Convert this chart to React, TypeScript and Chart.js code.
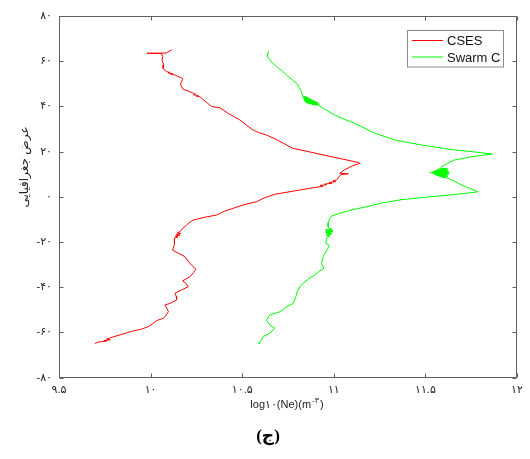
import React, { useEffect, useRef } from 'react';
import { Chart, registerables } from 'chart.js';

Chart.register(...registerables);

// CSES electron density profile (latitude, log10 Ne)
const csesLat = [
  65.0, 63.6, 63.5, 63.4, 62.0, 60.5, 58.3, 56.8, 55.4, 55.0, 54.8, 54.5, 54.2, 53.9, 53.6, 52.6,
  52.0, 51.0, 49.5, 47.6, 46.8, 45.8, 45.4, 45.1, 44.8, 44.5, 44.2, 43.6, 41.8, 39.9, 39.4, 38.2,
  36.9, 35.2, 34.0, 31.6, 29.5, 28.4, 27.3, 25.6, 23.7, 21.4, 20.0, 18.5, 16.8, 15.2, 14.8, 13.6,
  12.0, 10.4, 10.1, 9.9, 9.0, 7.4, 7.0, 6.7, 6.3, 6.0, 5.6, 5.3, 5.0, 4.6, 4.0, 2.5,
  1.1, -0.5, -2.2, -3.5, -5.1, -6.5, -8.1, -9.0, -10.3, -11.5, -12.5, -14.0, -15.5, -16.0, -16.3, -16.7,
  -17.0, -17.4, -17.8, -18.3, -19.1, -21.0, -23.6, -25.0, -26.5, -28.0, -29.5, -32.1, -33.5, -35.4, -37.2, -38.5,
  -39.8, -41.3, -42.7, -44.0, -45.7, -47.2, -47.9, -49.5, -50.9, -53.0, -53.8, -54.8, -56.3, -57.5, -58.6, -59.7,
  -61.0, -61.9, -63.0, -63.3, -63.6, -63.9, -64.2, -64.9,
];
const csesNe = [
  10.115, 10.085, 9.98, 10.06, 10.066, 10.062, 10.072, 10.068, 10.087, 10.105, 10.095, 10.12, 10.11, 10.135, 10.14, 10.17,
  10.175, 10.168, 10.164, 10.178, 10.205, 10.233, 10.245, 10.235, 10.26, 10.25, 10.27, 10.278, 10.305, 10.333, 10.378, 10.4,
  10.424, 10.46, 10.487, 10.525, 10.56, 10.59, 10.633, 10.68, 10.724, 10.778, 10.86, 10.942, 11.04, 11.133, 11.142, 11.1,
  11.06, 11.033, 11.08, 11.04, 11.03, 11.015, 10.995, 11.01, 10.975, 10.99, 10.95, 10.96, 10.925, 10.94, 10.888, 10.78,
  10.678, 10.62, 10.578, 10.51, 10.451, 10.4, 10.36, 10.3, 10.233, 10.21, 10.197, 10.175, 10.16, 10.145, 10.165, 10.14,
  10.16, 10.135, 10.15, 10.13, 10.133, 10.128, 10.12, 10.151, 10.187, 10.2, 10.215, 10.247, 10.235, 10.215, 10.175, 10.195,
  10.205, 10.169, 10.133, 10.14, 10.142, 10.106, 10.078, 10.09, 10.097, 10.08, 10.069, 10.033, 10.01, 9.987, 9.95, 9.89,
  9.84, 9.8, 9.76, 9.78, 9.745, 9.76, 9.72, 9.696,
];

// Swarm C electron density profile (latitude, log10 Ne)
const swarmLat = [
  64.5, 63.5, 62.0, 60.8, 59.8, 57.6, 55.5, 53.9, 52.0, 50.2, 48.5, 46.5,
  44.4, 44.2, 44.0, 43.8, 43.6, 43.4, 43.2, 43.0, 42.8, 42.6, 42.4, 42.2, 42.0, 41.8, 41.6, 41.4, 41.2, 41.0, 40.8, 40.6,
  38.8, 36.9, 34.5, 32.5, 30.3, 28.1, 25.1, 22.9, 20.7, 19.9, 18.9, 17.8, 16.3, 14.8, 13.3,
  12.6, 12.4, 12.2, 12.0, 11.8, 11.6, 11.4, 11.2, 11.0, 10.8, 10.7, 10.5, 10.3, 10.1, 9.9, 9.7, 9.5, 9.3, 9.1, 8.9, 8.6, 8.2,
  6.8, 5.2, 3.8, 2.5, 2.2, 1.5, 0.8, -0.2, -1.4, -2.8, -4.4, -6.0, -7.3, -8.5, -9.5, -11.5, -13.3,
  -14.0, -14.3, -14.6, -14.9, -15.2, -15.5, -15.8, -16.1, -16.4, -16.7, -17.0, -17.4, -17.7,
  -19.0, -20.6, -21.5, -22.8, -24.5, -26.5, -29.5, -31.7, -33.0, -34.6, -36.5, -38.3, -39.8, -42.0, -44.2, -47.2,
  -48.7, -50.9, -52.3, -54.6, -56.8, -58.2, -60.4, -61.9, -64.2, -65.2,
];
const swarmNe = [
  10.646, 10.64, 10.638, 10.65, 10.657, 10.688, 10.72, 10.742, 10.77, 10.797, 10.81, 10.824,
  10.83, 10.85, 10.835, 10.86, 10.835, 10.87, 10.835, 10.88, 10.84, 10.89, 10.84, 10.9, 10.845, 10.91, 10.85, 10.915, 10.86, 10.92, 10.88, 10.915,
  10.95, 10.988, 11.05, 11.115, 11.17, 11.224, 11.333, 11.479, 11.66, 11.76, 11.866, 11.76, 11.66, 11.62, 11.588,
  11.585, 11.62, 11.57, 11.62, 11.56, 11.62, 11.55, 11.625, 11.54, 11.63, 11.524, 11.63, 11.54, 11.625, 11.55, 11.62, 11.56, 11.62, 11.575, 11.62, 11.59, 11.624,
  11.66, 11.697, 11.74, 11.779, 11.788, 11.72, 11.633, 11.5, 11.36, 11.26, 11.178, 11.09, 11.033, 10.99, 10.978, 10.97, 10.969,
  10.975, 10.99, 10.955, 10.995, 10.955, 10.995, 10.955, 10.99, 10.96, 10.985, 10.96, 10.98, 10.965,
  10.96, 10.957, 10.975, 10.969, 10.955, 10.942, 10.933, 10.946, 10.92, 10.897, 10.86, 10.833, 10.815, 10.8, 10.793, 10.778,
  10.742, 10.706, 10.651, 10.633, 10.651, 10.678, 10.651, 10.615, 10.597, 10.593,
];

const seriesNames = ['CSES', 'Swarm C'];
const seriesColors = ['#ff0000', '#00ff00'];

const xTickValues = [9.5, 10, 10.5, 11, 11.5, 12];
const xTickLabels = ['۹.۵', '۱۰', '۱۰.۵', '۱۱', '۱۱.۵', '۱۲'];
const yTickValues = [-80, -60, -40, -20, 0, 20, 40, 60, 80];
const yTickLabels = ['-۸۰', '-۶۰', '-۴۰', '-۲۰', '۰', '۲۰', '۴۰', '۶۰', '۸۰'];

const xTitleMain = 'log۱۰(Ne)(m';
const xTitleSup = '-۳';
const xTitleEnd = ')';
const yTitle = 'عرض جغرافیایی';
const caption = '(ج)';

const FONT = "'Liberation Sans', 'DejaVu Sans', Arial, sans-serif";

const W = 514;
const H = 443;

const decorPlugin = {
  id: 'decor',
  afterDraw(chart: any) {
    const ctx = chart.ctx as CanvasRenderingContext2D;
    const a = chart.chartArea;
    const xs = chart.scales.x;
    const ys = chart.scales.y;
    const L = Math.round(a.left) + 0.5;
    const R = Math.round(a.right) - 0.5;
    const T = Math.round(a.top) + 0.5;
    const B = Math.round(a.bottom) - 0.5;
    ctx.save();
    // box
    ctx.strokeStyle = '#5f5f5f';
    ctx.lineWidth = 1;
    ctx.beginPath();
    ctx.rect(L, T, R - L, B - T);
    ctx.stroke();
    // inward ticks
    const tl = 4;
    ctx.beginPath();
    xTickValues.forEach((v) => {
      const px = Math.round(xs.getPixelForValue(v)) + 0.5;
      ctx.moveTo(px, B);
      ctx.lineTo(px, B - tl);
      ctx.moveTo(px, T);
      ctx.lineTo(px, T + tl);
    });
    yTickValues.forEach((v) => {
      const py = Math.round(ys.getPixelForValue(v)) + 0.5;
      ctx.moveTo(L, py);
      ctx.lineTo(L + tl, py);
      ctx.moveTo(R, py);
      ctx.lineTo(R - tl, py);
    });
    ctx.stroke();

    // legend
    const lx = 399.5, ly = 22.5, lw = 96, lh = 36.5;
    ctx.fillStyle = '#ffffff';
    ctx.fillRect(lx, ly, lw, lh);
    ctx.strokeStyle = '#8a8a8a';
    ctx.strokeRect(lx, ly, lw, lh);
    ctx.font = `13px ${FONT}`;
    ctx.textAlign = 'left';
    ctx.textBaseline = 'middle';
    seriesNames.forEach((name, i) => {
      const yy = 32.5 + i * 16.5;
      ctx.strokeStyle = seriesColors[i];
      ctx.beginPath();
      ctx.moveTo(404, yy);
      ctx.lineTo(435, yy);
      ctx.stroke();
      ctx.fillStyle = '#111';
      ctx.fillText(name, 439, yy + 1);
    });

    // x title with superscript
    ctx.fillStyle = '#222';
    ctx.font = `11px ${FONT}`;
    const w1 = ctx.measureText(xTitleMain).width;
    const w3 = ctx.measureText(xTitleEnd).width;
    ctx.font = `8px ${FONT}`;
    const w2 = ctx.measureText(xTitleSup).width + 2;
    const total = w1 + w2 + w3;
    const cx = (a.left + a.right) / 2 - 1;
    let sx = cx - total / 2;
    const ty = 397;
    ctx.textAlign = 'left';
    ctx.textBaseline = 'middle';
    ctx.font = `11px ${FONT}`;
    ctx.fillText(xTitleMain, sx, ty);
    sx += w1;
    ctx.font = `8px ${FONT}`;
    ctx.fillText(xTitleSup, sx + 1, ty - 4);
    sx += w2;
    ctx.font = `11px ${FONT}`;
    ctx.fillText(xTitleEnd, sx, ty);

    // y title
    ctx.save();
    ctx.translate(17, 159);
    ctx.rotate(-Math.PI / 2);
    ctx.font = `12px ${FONT}`;
    ctx.textAlign = 'center';
    ctx.textBaseline = 'middle';
    ctx.fillText(yTitle, 0, 0);
    ctx.restore();

    // caption
    ctx.font = `bold 17px 'Liberation Serif', 'DejaVu Sans', serif`;
    ctx.textAlign = 'center';
    ctx.textBaseline = 'middle';
    ctx.fillStyle = '#000';
    ctx.fillText(caption, 260, 429);
    ctx.restore();
  },
};

export default function App() {
  const ref = useRef<HTMLCanvasElement | null>(null);
  useEffect(() => {
    if (!ref.current) return;
    const chart = new Chart(ref.current, {
      type: 'scatter',
      data: {
        datasets: [
          {
            label: seriesNames[0],
            data: csesLat.map((lat, i) => ({ x: csesNe[i], y: lat })),
            showLine: true,
            borderColor: seriesColors[0],
            borderWidth: 1,
            pointRadius: 0,
            fill: false,
            tension: 0,
          },
          {
            label: seriesNames[1],
            data: swarmLat.map((lat, i) => ({ x: swarmNe[i], y: lat })),
            showLine: true,
            borderColor: seriesColors[1],
            borderWidth: 1,
            pointRadius: 0,
            fill: false,
            tension: 0,
          },
        ],
      },
      options: {
        responsive: false,
        animation: false,
        layout: { padding: { left: 0, top: 8, right: 5, bottom: 0 } },
        plugins: { legend: { display: false }, tooltip: { enabled: false } },
        scales: {
          x: {
            type: 'linear',
            min: 9.5,
            max: 12,
            afterBuildTicks: (s: any) => {
              s.ticks = xTickValues.map((v) => ({ value: v }));
            },
            afterFit: (s: any) => {
              s.height = 73.5;
              s.paddingLeft = 0;
              s.paddingRight = 0;
            },
            ticks: {
              autoSkip: false,
              maxRotation: 0,
              padding: 6,
              color: '#222',
              font: { family: FONT, size: 11 },
              callback: (v: any) => {
                const i = xTickValues.indexOf(Number(v));
                return i >= 0 ? xTickLabels[i] : '';
              },
            },
            grid: { display: false, drawTicks: false },
            border: { display: false },
          },
          y: {
            type: 'linear',
            min: -80,
            max: 80,
            afterBuildTicks: (s: any) => {
              s.ticks = yTickValues.map((v) => ({ value: v }));
            },
            afterFit: (s: any) => {
              s.width = 51;
              s.paddingTop = 0;
              s.paddingBottom = 0;
            },
            ticks: {
              autoSkip: false,
              padding: 7,
              color: '#222',
              font: { family: FONT, size: 11 },
              callback: (v: any) => {
                const i = yTickValues.indexOf(Number(v));
                return i >= 0 ? yTickLabels[i] : '';
              },
            },
            grid: { display: false, drawTicks: false },
            border: { display: false },
          },
        },
      },
      plugins: [decorPlugin],
    } as any);
    return () => chart.destroy();
  }, []);
  return (
    <canvas
      ref={ref}
      width={W}
      height={H}
      style={{ display: 'block', width: W, height: H }}
    />
  );
}
